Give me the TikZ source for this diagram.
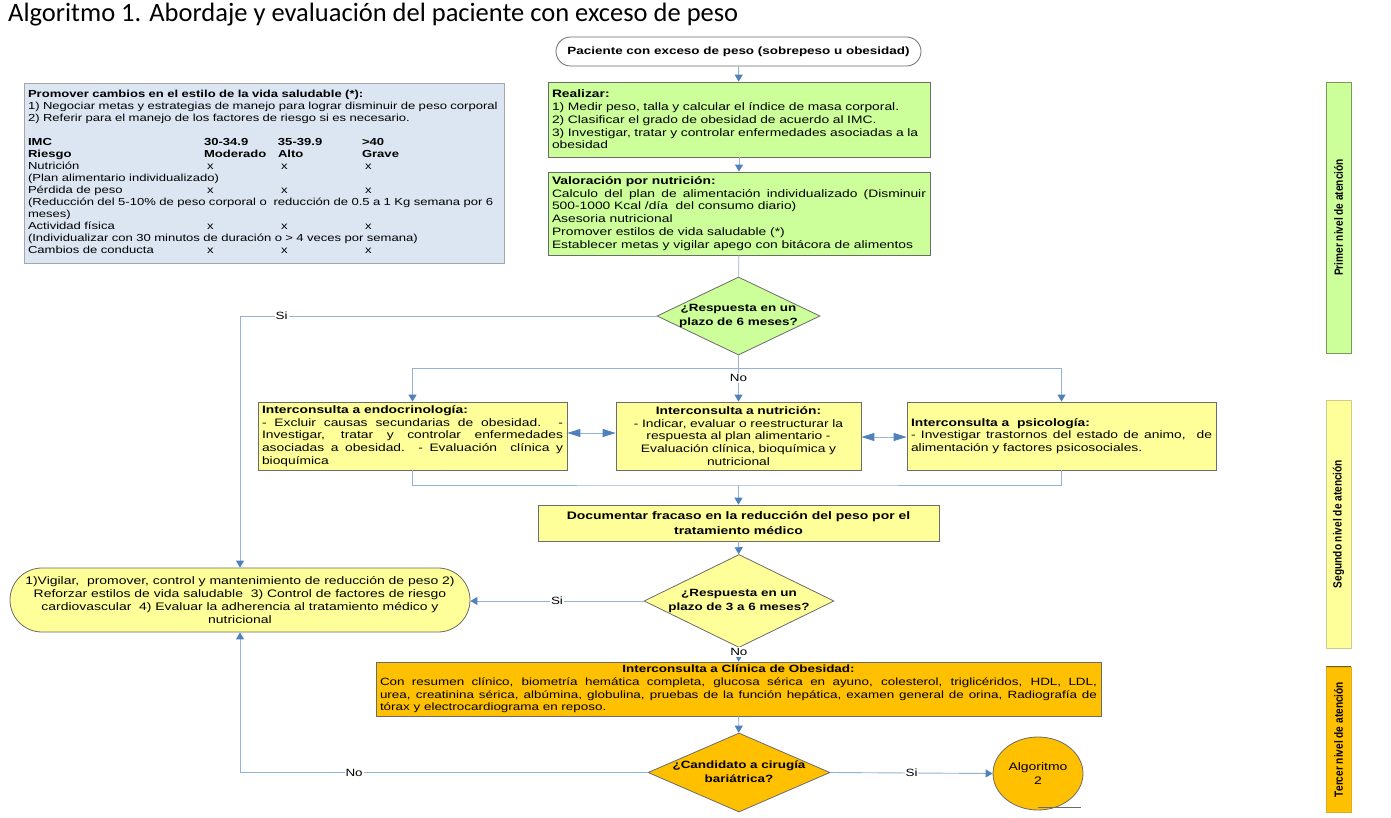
\documentclass[tikz,border=0pt]{standalone}
\usepackage{fontspec}
\setmainfont[FakeStretch=1.28]{Liberation Sans}
\newfontfamily\narrowfont[FakeStretch=0.85]{Liberation Sans}
\newfontfamily\titlefont{Carlito}
\usetikzlibrary{shapes.geometric,arrows.meta,positioning}

\definecolor{boxgreen}{HTML}{CCFF99}
\definecolor{boxyellow}{HTML}{FFFF99}
\definecolor{boxorange}{HTML}{FFC000}
\definecolor{boxblue}{HTML}{DCE6F2}
\definecolor{lineblue}{HTML}{95B3D7}
\definecolor{tipblue}{HTML}{4F81BD}
\definecolor{edgegray}{HTML}{6B6B6B}
\definecolor{lightedge}{HTML}{A6A6A6}

% text of a diamond, kept out of the shape size
\newcommand\qtext[1]{\makebox[0pt]{\smash{\raisebox{-0.25em}{\begin{tabular}{@{}c@{}}#1\end{tabular}}}}}
\newcommand\cellx{\hspace*{3pt}x}

\tikzset{
  plainbox/.style={draw=edgegray, line width=0.8pt, inner xsep=4pt, inner ysep=2pt,
    font=\fontsize{10.8}{12.8}\selectfont},
  greenbox/.style={plainbox, fill=boxgreen},
  yellowbox/.style={plainbox, fill=boxyellow},
  orangebox/.style={plainbox, fill=boxorange},
  infobox/.style={draw=lightedge, line width=0.8pt, fill=boxblue, inner xsep=4pt, inner ysep=0pt,
    font=\fontsize{10.2}{12}\selectfont},
  startbox/.style={draw=edgegray, fill=white, line width=0.8pt, rounded corners=14.5pt,
    minimum width=365pt, minimum height=29pt, font=\bfseries\fontsize{10.5}{13}\selectfont},
  roundbox/.style={yellowbox, rounded corners=32pt, align=center},
  decision/.style={diamond, draw=edgegray, line width=0.8pt, inner sep=0pt,
    font=\bfseries\fontsize{10.5}{13.5}\selectfont},
  levelbox/.style={rotate=90, line width=0.8pt, minimum height=25pt, inner sep=0pt,
    font=\narrowfont\bfseries\fontsize{11.9}{12}\selectfont},
  wire/.style={draw=lineblue, line width=0.9pt},
  flow/.style={wire, -{Triangle[width=8pt,length=7pt,color=tipblue]}},
  twoway/.style={wire, {Triangle[width=8pt,length=13pt,color=tipblue]}-{Triangle[width=8pt,length=13pt,color=tipblue]}},
  answer/.style={fill=white, inner sep=1pt, font=\fontsize{10.5}{12}\selectfont}
}

\begin{document}
\begin{tikzpicture}[x=1pt, y=-1pt]
  \path[use as bounding box, fill=white] (0,0) rectangle (1391,818);
  \node[anchor=base west, inner sep=0pt, font=\titlefont\fontsize{26.5}{28}\selectfont] (title) at (8,22)
    {Algoritmo 1. Abordaje y evaluación del paciente con exceso de peso};

  % primer nivel
  \node[startbox] (start) at (738.5,51.5) {Paciente con exceso de peso (sobrepeso u obesidad)};
  \node[greenbox, minimum width=382pt, minimum height=75pt, text width=374pt, align=left] (real) at (739,119.5)
    {\textbf{Realizar:}\\
     1) Medir peso, talla y calcular el índice de masa corporal.\\
     2) Clasificar el grado de obesidad de acuerdo al IMC.\\
     3) Investigar, tratar y controlar enfermedades asociadas a la\\ obesidad};
  \node[greenbox, minimum width=382pt, minimum height=83pt, text width=374pt, align=justify] (valo) at (739,213.5)
    {\textbf{Valoración por nutrición:}\\
     Calculo del plan de alimentación individualizado (Disminuir\linebreak
     500-1000 Kcal /día \ del consumo diario)\\
     Asesoria nutricional\\
     Promover estilos de vida saludable (*)\\
     Establecer metas y vigilar apego con bitácora de alimentos};
  \node[decision, fill=boxgreen, minimum width=163pt, minimum height=78pt] (d1) at (738.5,316)
    {\qtext{¿Respuesta en un\\ plazo de 6 meses?}};

  \node[infobox, minimum width=480pt, minimum height=180pt, text width=472pt, align=left] (info) at (264,173) {%
    \begin{tabular}{@{}p{176pt}@{}p{74pt}@{}p{84pt}@{}l@{}}
      \multicolumn{4}{@{}l@{}}{\bfseries Promover cambios en el estilo de la vida saludable (*):}\\
      \multicolumn{4}{@{}l@{}}{1) Negociar metas y estrategias de manejo para lograr disminuir de peso corporal}\\
      \multicolumn{4}{@{}l@{}}{2) Referir para el manejo de los factores de riesgo si es necesario.}\\
      \\
      \bfseries IMC & \bfseries 30-34.9 & \bfseries 35-39.9 & \bfseries >40\\
      \bfseries Riesgo & \bfseries Moderado & \bfseries Alto & \bfseries Grave\\
      Nutrición & \cellx & \cellx & \cellx\\
      \multicolumn{4}{@{}l@{}}{(Plan alimentario individualizado)}\\
      Pérdida de peso & \cellx & \cellx & \cellx\\
      \multicolumn{4}{@{}l@{}}{(Reducción del 5-10\% de peso corporal o \ reducción de 0.5 a 1 Kg semana por 6}\\
      \multicolumn{4}{@{}l@{}}{meses)}\\
      Actividad física & \cellx & \cellx & \cellx\\
      \multicolumn{4}{@{}l@{}}{(Individualizar con 30 minutos de duración o > 4 veces por semana)}\\
      Cambios de conducta & \cellx & \cellx & \cellx
    \end{tabular}};

  % segundo nivel
  \node[yellowbox, minimum width=309pt, minimum height=68pt, text width=301pt, align=justify] (endo) at (412.5,436)
    {\textbf{Interconsulta a endocrinología:}\\
     - Excluir causas secundarias de obesidad. -\linebreak
     Investigar, tratar y controlar enfermedades\linebreak
     asociadas a obesidad. - Evaluación \ clínica y\linebreak
     bioquímica};
  \node[yellowbox, minimum width=245pt, minimum height=68pt, text width=237pt, align=center] (nutri) at (738.5,436)
    {\textbf{Interconsulta a nutrición:}\\
     - Indicar, evaluar o reestructurar la\\ respuesta al plan alimentario -\\
     Evaluación clínica, bioquímica y\\ nutricional};
  \node[yellowbox, minimum width=309pt, minimum height=68pt, text width=301pt, align=justify] (psico) at (1061.5,436)
    {\textbf{Interconsulta a \ psicología:}\\
     - Investigar trastornos del estado de animo, \ de\linebreak
     alimentación y factores psicosociales.};
  \node[yellowbox, minimum width=401pt, minimum height=36pt, align=center,
        font=\bfseries\fontsize{10.9}{14.5}\selectfont] (doc) at (738.5,523)
    {Documentar fracaso en la reducción del peso por el\\ tratamiento médico};
  \node[decision, fill=boxyellow, minimum width=190pt, minimum height=93pt] (d2) at (739,601)
    {\qtext{¿Respuesta en un\\ plazo de 3 a 6 meses?}};
  \node[roundbox, minimum width=460pt, minimum height=64pt,
        font=\fontsize{10.9}{13}\selectfont] (ellb) at (240,600)
    {1)Vigilar, \ promover, control y mantenimiento de reducción de peso 2)\\
     Reforzar estilos de vida saludable \ 3) Control de factores de riesgo\\
     cardiovascular \ 4) Evaluar la adherencia al tratamiento médico y\\
     nutricional};

  % tercer nivel
  \node[orangebox, minimum width=725pt, minimum height=54pt, text width=717pt, align=justify, inner ysep=0pt,
        font=\fontsize{10.5}{12.8}\selectfont] (clin) at (738.5,689)
    {\hfill\textbf{Interconsulta a Clínica de Obesidad:}\hfill\null\\
     Con resumen clínico, biometría hemática completa, glucosa sérica en ayuno, colesterol, triglicéridos, HDL, LDL,\linebreak
     urea, creatinina sérica, albúmina, globulina, pruebas de la función hepática, examen general de orina, Radiografía de\linebreak
     tórax y electrocardiograma en reposo.};
  \node[decision, fill=boxorange, minimum width=182pt, minimum height=79pt,
        font=\bfseries\fontsize{10.5}{14}\selectfont] (d3) at (739,772.5)
    {\qtext{¿Candidato a cirugía\\ bariátrica?}};
  \node[ellipse, draw=edgegray, fill=boxorange, line width=0.8pt, minimum width=90pt, minimum height=73pt,
        inner sep=0pt, align=center, font=\fontsize{10.9}{13.5}\selectfont] (algo) at (1038,773.5)
    {Algoritmo\\ 2};
  \draw[edgegray, line width=0.8pt] ([yshift=3pt]algo.south) -- ++(43,0);

  % niveles de atencion
  \node[levelbox, draw=boxgreen!60!black, fill=boxgreen, minimum width=271pt] (lvl1) at (1338.5,217.5)
    {Primer nivel de atención};
  \node[levelbox, draw=boxyellow!60!gray, fill=boxyellow, minimum width=248pt] (lvl2) at (1338.5,524)
    {Segundo nivel de atención};
  \node[levelbox, draw=boxorange!70!gray, fill=boxorange, minimum width=145pt] (lvl3) at (1338.5,739.5)
    {Tercer nivel de atención};
  \draw[boxorange!50!black, line width=1.6pt] (lvl3.north east) -- (lvl3.south east);

  % conectores
  \draw[flow] (start) -- (real);
  \draw[flow] (real) -- (valo);
  \draw[wire] (valo) -- (d1);
  \draw[flow] (d1.west) -| node[answer, pos=0.45] {Si} (ellb.north);
  \coordinate (jn) at (738.5,368);
  \draw[wire] (d1.south) -- (jn);
  \draw[flow] (jn) -- node[answer, pos=0.3] {No} (nutri.north);
  \draw[flow] (jn) -| (endo.north);
  \draw[flow] (jn) -| (psico.north);
  \draw[twoway] ([yshift=3pt]endo.east) -- ([yshift=3pt]nutri.west);
  \draw[twoway] ([yshift=-1pt]nutri.east) -- ([yshift=-1pt]psico.west);
  \coordinate (jb) at (738.5,485);
  \draw[wire] (endo.south) |- (jb) -| (psico.south);
  \draw[flow] (jb) -- (doc.north);
  \draw[flow] (doc) -- (d2);
  \draw[flow] (d2.west) -- node[answer] {Si} (d2.west -| ellb.east);
  \draw[flow] (d2.south) -- node[answer, pos=0.3] {No} (clin.north);
  \draw[flow] (clin) -- (d3);
  \draw[flow] (d3.west) -| node[answer, pos=0.36] {No} (ellb.south);
  \draw[flow] (d3.east) -- node[answer] {Si} (algo.west);
\end{tikzpicture}
\end{document}
